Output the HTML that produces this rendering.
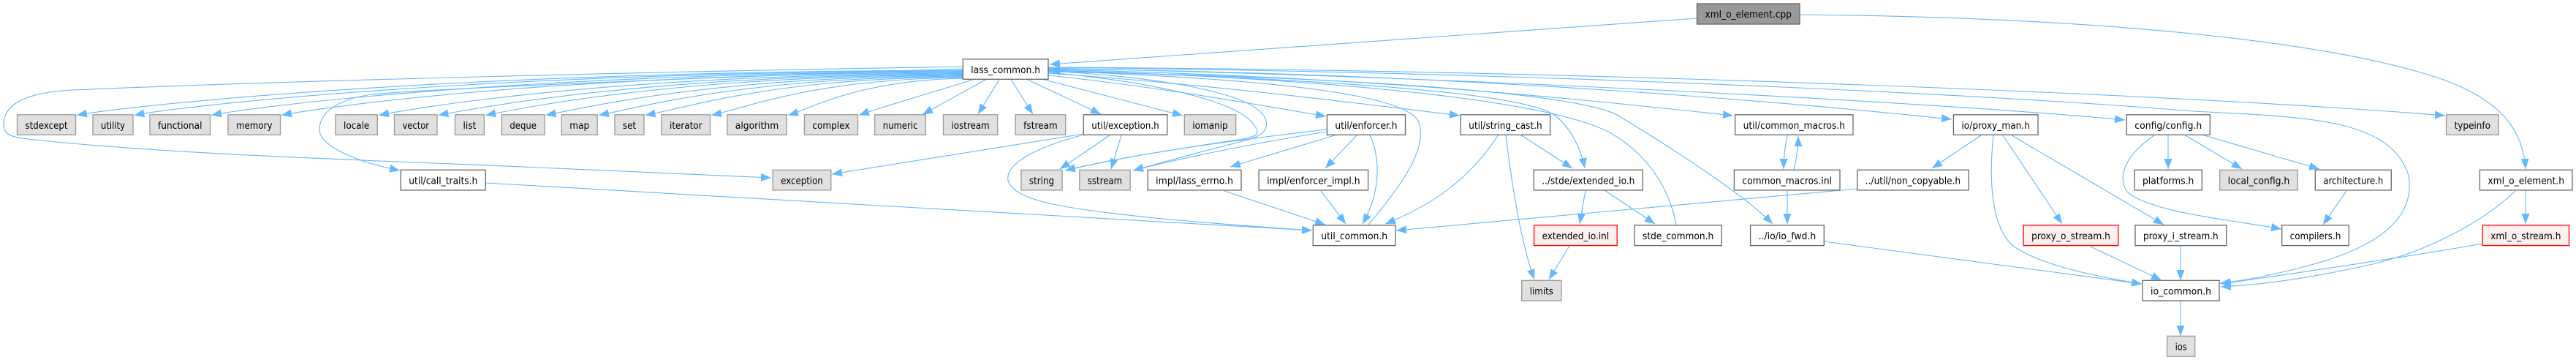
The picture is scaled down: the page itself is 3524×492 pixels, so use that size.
<!DOCTYPE html>
<html><head><meta charset="utf-8"><style>
html,body{margin:0;padding:0;background:#fff;}
svg{display:block;}
.e{fill:none;stroke:#63b8ff;stroke-width:1.1;marker-end:url(#ah);}
.b{fill:none;stroke:#63b8ff;stroke-width:1.1;}
.w{fill:#fff;stroke:#666;stroke-width:1.3;}
.g{fill:#e0e0e0;stroke:#999;stroke-width:1.3;}
.r{fill:#fff0f0;stroke:#f00;stroke-width:1.3;}
.d{fill:#999;stroke:#666;stroke-width:1.3;}
text{font-family:"DejaVu Sans Condensed","DejaVu Sans","Liberation Sans",sans-serif;font-size:13px;fill:#000;text-anchor:middle;}
</style></head><body>
<svg width="3524" height="492" viewBox="0 0 3524 492" xmlns="http://www.w3.org/2000/svg">
<defs><marker id="ah" viewBox="0 0 14 11" markerWidth="14" markerHeight="11" refX="14" refY="5.5" orient="auto" markerUnits="userSpaceOnUse"><path d="M0,0 L14,5.5 L0,11 Z" fill="#63b8ff"/></marker></defs>
<rect width="3524" height="492" fill="#fff"/>
<!-- edges -->
<path class="e" d="M2321,25 C2000,48 1700,68 1436,88"/>
<path class="e" d="M2462,20 C2900,24 3200,60 3340,108 C3430,140 3452,185 3455,231"/>
<path class="e" d="M1317,96 C590,98 165,146 105,157.5"/>
<path class="e" d="M1317,97 C637,99 243,146 183.5,157.5"/>
<path class="e" d="M1317,98 C700,100 349,146 289,157.5"/>
<path class="e" d="M1317,99 C758,101 445,146 385,157.5"/>
<path class="e" d="M1317,100 C838,102 578,146 518,157.5"/>
<path class="e" d="M1317,101 C887,103 660,146 599.5,157.5"/>
<path class="e" d="M1317,102 C925,104 724,146 664,157.5"/>
<path class="e" d="M1317,103 C975,105 806,146 746.5,157.5"/>
<path class="e" d="M1317,104 C1018,106 879,146 819,157.5"/>
<path class="e" d="M1317,105 C1056,107 942,147 882.5,157.5"/>
<path class="e" d="M1317,106 C1111,108 1020,148 973,157.5"/>
<path class="e" d="M1317,107 C1174,110 1110,148 1078,157.5"/>
<path class="e" d="M1332,108.5 C1290,122 1210,145 1175,157.5"/>
<path class="e" d="M1349,108.5 L1262,156.5"/>
<path class="e" d="M1367,108.5 L1338,156"/>
<path class="e" d="M1383,108.5 L1413,156"/>
<path class="e" d="M1405,108.5 L1506,156"/>
<path class="e" d="M1427,108.5 L1618,158"/>
<path class="e" d="M1317,91 C900,98 400,110 100,123 C20,127 5,150 5,170 C5,182 12,186 30,189 C150,203 320,212 520,220 C700,227 900,236 1055,243"/>
<path class="e" d="M1317,94 C1000,105 650,118 520,128 C470,132 437,150 437,177 C437,200 490,222 547,233"/>
<path class="e" d="M664.5,250 L1795,315"/>
<path class="e" d="M1482,183 L1138,238"/>
<path class="e" d="M1483,184 C1420,200 1370,225 1380,250 C1395,275 1450,285 1600,300 C1680,307 1750,312 1795,315"/>
<path class="e" d="M1518,185 L1450,231"/>
<path class="e" d="M1534,185 L1520,231"/>
<path class="e" d="M1434,97 C1580,105 1710,125 1730,160 C1740,180 1720,188 1700,193 C1640,208 1590,222 1550,233"/>
<path class="e" d="M1434,99 C1560,110 1690,135 1715,170 C1725,183 1720,186 1700,190 C1600,205 1520,218 1457,233"/>
<path class="e" d="M1815,177 C1700,190 1550,210 1457,233"/>
<path class="e" d="M1815,180 C1720,195 1620,215 1550,233"/>
<path class="e" d="M1826,185 L1683,228"/>
<path class="e" d="M1856,185 L1813,230"/>
<path class="e" d="M1874,185 C1888,215 1890,260 1864,306"/>
<path class="e" d="M1675,261 L1813,307"/>
<path class="e" d="M1807,261 L1841,306"/>
<path class="e" d="M1872,307 C1920,250 1955,200 1940,165 C1920,130 1750,108 1436,97"/>
<path class="e" d="M2050,184 C2010,245 1960,280 1895,306"/>
<path class="e" d="M2060,185 C2068,250 2080,330 2099,382"/>
<path class="e" d="M2080,184 L2151,230"/>
<path class="e" d="M1434,100 C1650,115 1850,140 1997,158"/>
<path class="e" d="M1434,103 C1580,118 1720,143 1814,159"/>
<path class="e" d="M1434,96 C1800,108 2080,125 2126,157 C2150,175 2163,205 2168,230"/>
<path class="e" d="M2169,260 L2161,306"/>
<path class="e" d="M2195,260 L2264,306"/>
<path class="e" d="M2147,336 L2119,382"/>
<path class="e" d="M2293,308 C2285,260 2255,210 2200,180 C2100,130 1750,105 1436,96"/>
<path class="e" d="M1434,98 C1900,106 2160,130 2212,157 C2300,210 2390,270 2425,306"/>
<path class="e" d="M1434,95 C1900,105 2200,140 2371,158"/>
<path class="e" d="M1434,94 C2000,100 2450,140 2670,163"/>
<path class="e" d="M1434,93 C2000,105 2650,140 2907,164"/>
<path class="e" d="M1434,92 C2200,96 3000,130 3345,158"/>
<path class="e" d="M1434,92 C2200,100 2800,135 3000,152 C3150,160 3270,160 3295,240 C3305,300 3250,340 3150,365 C3100,378 3060,385 3037,387"/>
<path class="e" d="M3455,260 L3455,306"/>
<path class="e" d="M3441,261 C3400,300 3330,340 3250,360 C3150,383 3080,390 3038,392"/>
<path class="e" d="M3396,333 C3300,350 3150,372 3038,388"/>
<path class="e" d="M2966,184 L2966,231"/>
<path class="e" d="M2988,184 L3067,231"/>
<path class="e" d="M3012,184 L3173,231"/>
<path class="e" d="M2947,185 C2910,210 2895,240 2910,262 C2940,290 3050,300 3121,313"/>
<path class="e" d="M3210,261 L3178,307"/>
<path class="e" d="M2983,336 L2983,383"/>
<path class="e" d="M2983,411 L2983,459"/>
<path class="e" d="M2860,337 L2957,383"/>
<path class="e" d="M2752,185 L2960,307"/>
<path class="e" d="M2740,185 L2821,306"/>
<path class="e" d="M2710,185 L2643,230"/>
<path class="e" d="M2727,185 C2720,250 2725,320 2760,340 C2800,365 2880,380 2930,388"/>
<path class="e" d="M2495,330 L2930,388"/>
<path class="e" d="M2445,185 C2442,200 2440,215 2440,231"/>
<path class="e" d="M2454,232 C2458,215 2460,200 2460,186"/>
<path class="e" d="M2445,261 L2445,306"/>
<path class="e" d="M2541,258 L1910,315"/>
<!-- nodes rank0 -->
<rect class="d" x="2321.5" y="5" width="140.5" height="28"/><text x="2391.75" y="24" textLength="118.5" lengthAdjust="spacingAndGlyphs">xml_o_element.cpp</text>
<!-- rank1 -->
<rect class="w" x="1317.3" y="80.8" width="116.7" height="27.5"/><text x="1375.65" y="100" textLength="94.7" lengthAdjust="spacingAndGlyphs">lass_common.h</text>
<!-- rank2 -->
<g>
<rect class="g" x="23.5" y="156.8" width="80" height="27.5"/><text x="63.5" y="176" textLength="58" lengthAdjust="spacingAndGlyphs">stdexcept</text>
<rect class="g" x="127" y="156.8" width="55" height="27.5"/><text x="154.5" y="176" textLength="33" lengthAdjust="spacingAndGlyphs">utility</text>
<rect class="g" x="205" y="156.8" width="82.5" height="27.5"/><text x="246.25" y="176" textLength="60.5" lengthAdjust="spacingAndGlyphs">functional</text>
<rect class="g" x="312" y="156.8" width="71.5" height="27.5"/><text x="347.75" y="176" textLength="49.5" lengthAdjust="spacingAndGlyphs">memory</text>
<rect class="g" x="459" y="156.8" width="57.3" height="27.5"/><text x="487.65" y="176" textLength="35.3" lengthAdjust="spacingAndGlyphs">locale</text>
<rect class="g" x="539.5" y="156.8" width="58.5" height="27.5"/><text x="568.75" y="176" textLength="36.5" lengthAdjust="spacingAndGlyphs">vector</text>
<rect class="g" x="622.5" y="156.8" width="39.8" height="27.5"/><text x="642.4" y="176" textLength="17.8" lengthAdjust="spacingAndGlyphs">list</text>
<rect class="g" x="686.4" y="156.8" width="58.6" height="27.5"/><text x="715.7" y="176" textLength="36.6" lengthAdjust="spacingAndGlyphs">deque</text>
<rect class="g" x="768.3" y="156.8" width="48.9" height="27.5"/><text x="792.75" y="176" textLength="26.9" lengthAdjust="spacingAndGlyphs">map</text>
<rect class="g" x="841" y="156.8" width="40" height="27.5"/><text x="861" y="176" textLength="18" lengthAdjust="spacingAndGlyphs">set</text>
<rect class="g" x="905" y="156.8" width="66.5" height="27.5"/><text x="938.25" y="176" textLength="44.5" lengthAdjust="spacingAndGlyphs">iterator</text>
<rect class="g" x="994.8" y="156.8" width="81.5" height="27.5"/><text x="1035.55" y="176" textLength="59.5" lengthAdjust="spacingAndGlyphs">algorithm</text>
<rect class="g" x="1100.4" y="156.8" width="73.1" height="27.5"/><text x="1136.95" y="176" textLength="51.1" lengthAdjust="spacingAndGlyphs">complex</text>
<rect class="g" x="1196.7" y="156.8" width="69.7" height="27.5"/><text x="1231.55" y="176" textLength="47.7" lengthAdjust="spacingAndGlyphs">numeric</text>
<rect class="g" x="1290.5" y="156.8" width="74.2" height="27.5"/><text x="1327.6" y="176" textLength="52.2" lengthAdjust="spacingAndGlyphs">iostream</text>
<rect class="g" x="1389.2" y="156.8" width="68.5" height="27.5"/><text x="1423.45" y="176" textLength="46.5" lengthAdjust="spacingAndGlyphs">fstream</text>
<rect class="w" x="1482.3" y="156.8" width="114.4" height="27.5"/><text x="1539.5" y="176" textLength="92.4" lengthAdjust="spacingAndGlyphs">util/exception.h</text>
<rect class="g" x="1620.3" y="156.8" width="70.4" height="27.5"/><text x="1655.5" y="176" textLength="48.4" lengthAdjust="spacingAndGlyphs">iomanip</text>
<rect class="w" x="1815.4" y="156.8" width="107.1" height="27.5"/><text x="1868.95" y="176" textLength="85.1" lengthAdjust="spacingAndGlyphs">util/enforcer.h</text>
<rect class="w" x="1998.3" y="156.8" width="122.4" height="27.5"/><text x="2059.5" y="176" textLength="100.4" lengthAdjust="spacingAndGlyphs">util/string_cast.h</text>
<rect class="w" x="2373.6" y="156.8" width="161.4" height="27.5"/><text x="2454.3" y="176" textLength="139.4" lengthAdjust="spacingAndGlyphs">util/common_macros.h</text>
<rect class="w" x="2672.4" y="156.8" width="115.6" height="27.5"/><text x="2730.2" y="176" textLength="93.6" lengthAdjust="spacingAndGlyphs">io/proxy_man.h</text>
<rect class="w" x="2909.3" y="156.8" width="114" height="27.5"/><text x="2966.3" y="176" textLength="92" lengthAdjust="spacingAndGlyphs">config/config.h</text>
<rect class="g" x="3346.5" y="156.8" width="71.5" height="27.5"/><text x="3382.25" y="176" textLength="49.5" lengthAdjust="spacingAndGlyphs">typeinfo</text>
</g>
<!-- rank3 -->
<g>
<rect class="w" x="548.3" y="232.3" width="115.9" height="27.6"/><text x="606.25" y="251.5" textLength="93.9" lengthAdjust="spacingAndGlyphs">util/call_traits.h</text>
<rect class="g" x="1057.2" y="232.3" width="79.6" height="27.6"/><text x="1097" y="251.5" textLength="57.6" lengthAdjust="spacingAndGlyphs">exception</text>
<rect class="g" x="1396.9" y="232.3" width="56.2" height="27.6"/><text x="1425" y="251.5" textLength="34.2" lengthAdjust="spacingAndGlyphs">string</text>
<rect class="g" x="1476.8" y="232.3" width="69.3" height="27.6"/><text x="1511.45" y="251.5" textLength="47.3" lengthAdjust="spacingAndGlyphs">sstream</text>
<rect class="w" x="1570.2" y="232.3" width="127.8" height="27.6"/><text x="1634.1" y="251.5" textLength="105.8" lengthAdjust="spacingAndGlyphs">impl/lass_errno.h</text>
<rect class="w" x="1722.1" y="232.3" width="149.5" height="27.6"/><text x="1796.85" y="251.5" textLength="127.5" lengthAdjust="spacingAndGlyphs">impl/enforcer_impl.h</text>
<rect class="w" x="2098.3" y="232.3" width="149" height="27.6"/><text x="2172.8" y="251.5" textLength="127" lengthAdjust="spacingAndGlyphs">../stde/extended_io.h</text>
<rect class="w" x="2372.4" y="232.3" width="144.6" height="27.6"/><text x="2444.7" y="251.5" textLength="122.6" lengthAdjust="spacingAndGlyphs">common_macros.inl</text>
<rect class="w" x="2540.8" y="232.3" width="152.3" height="27.6"/><text x="2616.95" y="251.5" textLength="130.3" lengthAdjust="spacingAndGlyphs">../util/non_copyable.h</text>
<rect class="w" x="2920" y="232.3" width="92.3" height="27.6"/><text x="2966.15" y="251.5" textLength="70.3" lengthAdjust="spacingAndGlyphs">platforms.h</text>
<rect class="g" x="3036.7" y="232.3" width="106.6" height="27.6"/><text x="3090" y="251.5" textLength="84.6" lengthAdjust="spacingAndGlyphs">local_config.h</text>
<rect class="w" x="3167.3" y="232.3" width="104" height="27.6"/><text x="3219.3" y="251.5" textLength="82" lengthAdjust="spacingAndGlyphs">architecture.h</text>
<rect class="w" x="3392.4" y="232.3" width="126.6" height="27.6"/><text x="3455.7" y="251.5" textLength="104.6" lengthAdjust="spacingAndGlyphs">xml_o_element.h</text>
</g>
<!-- rank4 -->
<g>
<rect class="w" x="1796.3" y="307.8" width="112.8" height="27.8"/><text x="1852.7" y="327" textLength="90.8" lengthAdjust="spacingAndGlyphs">util_common.h</text>
<rect class="r" x="2098.6" y="307.8" width="113.6" height="27.8"/><text x="2155.4" y="327" textLength="91.6" lengthAdjust="spacingAndGlyphs">extended_io.inl</text>
<rect class="w" x="2236" y="307.8" width="119.2" height="27.8"/><text x="2295.6" y="327" textLength="97.2" lengthAdjust="spacingAndGlyphs">stde_common.h</text>
<rect class="w" x="2394.6" y="307.8" width="100.7" height="27.8"/><text x="2444.95" y="327" textLength="78.7" lengthAdjust="spacingAndGlyphs">../io/io_fwd.h</text>
<rect class="r" x="2768.1" y="307.8" width="129.7" height="27.8"/><text x="2832.95" y="327" textLength="107.7" lengthAdjust="spacingAndGlyphs">proxy_o_stream.h</text>
<rect class="w" x="2921" y="307.8" width="124.7" height="27.8"/><text x="2983.35" y="327" textLength="102.7" lengthAdjust="spacingAndGlyphs">proxy_i_stream.h</text>
<rect class="w" x="3121.7" y="307.8" width="91.6" height="27.8"/><text x="3167.5" y="327" textLength="69.6" lengthAdjust="spacingAndGlyphs">compilers.h</text>
<rect class="r" x="3396.2" y="307.8" width="118.3" height="27.8"/><text x="3455.35" y="327" textLength="96.3" lengthAdjust="spacingAndGlyphs">xml_o_stream.h</text>
</g>
<!-- rank5 -->
<rect class="g" x="2081.7" y="383.3" width="54.3" height="27.7"/><text x="2108.85" y="402.5" textLength="32.3" lengthAdjust="spacingAndGlyphs">limits</text>
<rect class="w" x="2931" y="383.3" width="105" height="27.7"/><text x="2983.5" y="402.5" textLength="83" lengthAdjust="spacingAndGlyphs">io_common.h</text>
<!-- rank6 -->
<rect class="g" x="2964.6" y="459.3" width="38.2" height="28"/><text x="2983.7" y="478.5" textLength="16.2" lengthAdjust="spacingAndGlyphs">ios</text>
</svg>
</body></html>
